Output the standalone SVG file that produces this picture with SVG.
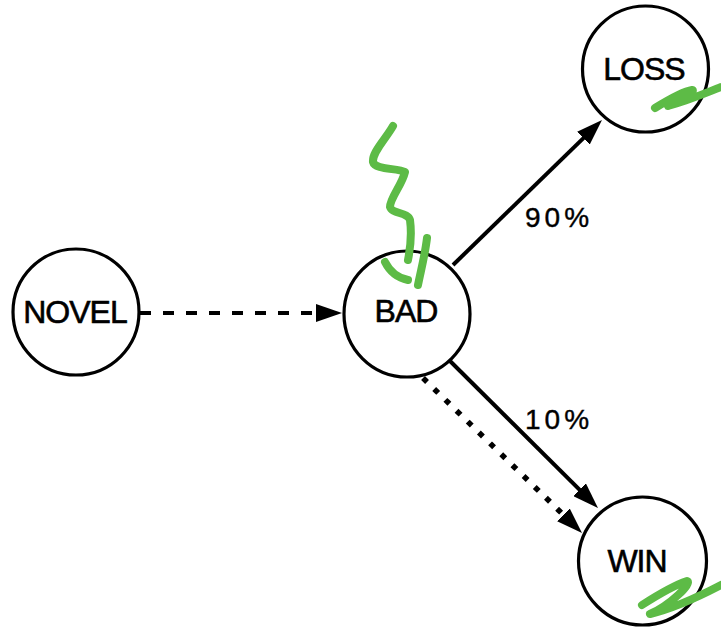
<svg xmlns="http://www.w3.org/2000/svg" width="721" height="630" viewBox="0 0 721 630">
<style>
.node circle{fill:#fff;stroke:#000;stroke-width:3.2}
.node text{font-family:"Liberation Sans",Arial,sans-serif;font-size:32px;fill:#000;stroke:#000;stroke-width:0.6;text-anchor:middle;letter-spacing:-1px}
.edge{fill:none;stroke:#000;stroke-width:4;stroke-linecap:butt}
.dash{stroke-dasharray:11 12}
.dot{stroke-width:5.5;stroke-linecap:square;stroke-dasharray:0.1 15.5}
.lbl{font-family:"Liberation Sans",Arial,sans-serif;font-size:28px;letter-spacing:4px;fill:#000;stroke:#000;stroke-width:0.4}
.green{fill:none;stroke:#5dbb46;stroke-width:8;stroke-linecap:round;stroke-linejoin:round}
</style>
<defs>
<marker id="ah" viewBox="0 0 26 18" refX="18" refY="9" markerWidth="26" markerHeight="18" markerUnits="userSpaceOnUse" orient="auto">
<path d="M0,0 L26,9 L0,18 Z" fill="#000"/>
</marker>
</defs>
<rect width="721" height="630" fill="#fff"/>
<g id="connectors">
<line class="edge dash" x1="140" y1="313" x2="334" y2="313" marker-end="url(#ah)"/>
<line class="edge" x1="453" y1="265" x2="596.3" y2="125.6" marker-end="url(#ah)"/>
<line class="edge" x1="450" y1="361" x2="592.3" y2="502.4" marker-end="url(#ah)"/>
<line class="edge dot" x1="425" y1="380" x2="576.3" y2="527.4" marker-end="url(#ah)"/>
<text class="lbl" x="525" y="227">90%</text>
<text class="lbl" x="525" y="429">10%</text>
</g>
<g id="novel" class="node"><circle cx="76" cy="312" r="63"/><text x="75" y="323">NOVEL</text></g>
<g id="bad" class="node"><circle cx="407" cy="314" r="63"/><text x="406" y="322">BAD</text></g>
<g id="loss" class="node"><circle cx="645.5" cy="69" r="63"/><text x="644" y="80">LOSS</text></g>
<g id="win" class="node"><circle cx="642.5" cy="561" r="64"/><text x="637" y="572">WIN</text></g>
<g id="scribbles">
<path class="green" d="M393,126 C385,140 372,152 373,162 C375,170 398,168 405,172 C402,185 390,198 390,207 C392,214 408,212 410,220 C412,235 410,250 408,260"/>
<path class="green" d="M427,238 C425,255 421,270 418,285"/>
<path class="green" d="M385,262 C390,272 398,278 408,280"/>
<path class="green" d="M655,108 C668,100 685,91 692,90 C697,91 678,102 668,106 C690,100 708,92 721,87"/>
<path class="green" d="M642,605 C656,596 675,585 687,581 C693,583 670,605 650,614 C675,608 700,596 721,585"/>
</g>
</svg>
